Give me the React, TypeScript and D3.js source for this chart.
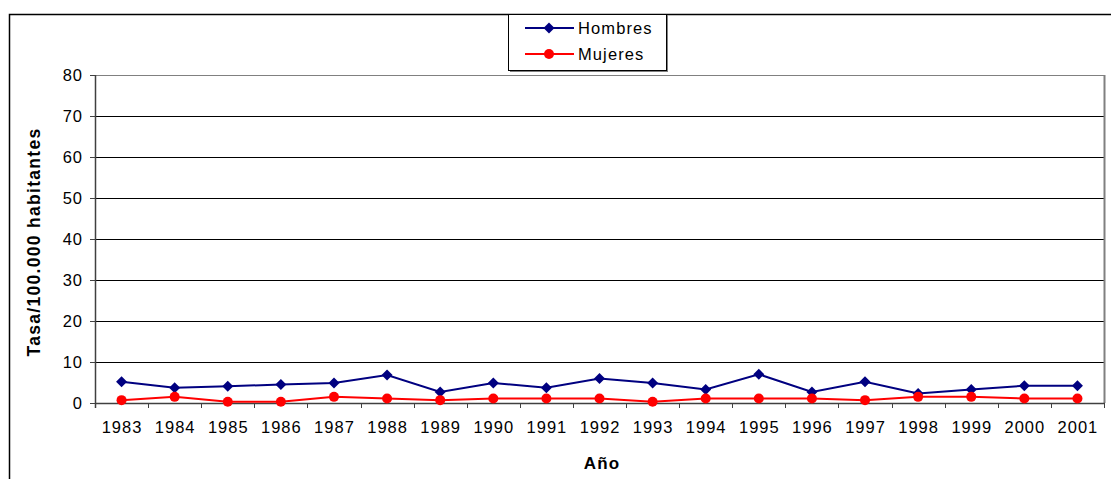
import React from "react";
import * as d3 from "d3";

const years = ["1983","1984","1985","1986","1987","1988","1989","1990","1991","1992","1993","1994","1995","1996","1997","1998","1999","2000","2001"];
const hombres = [5.2,3.7,4.1,4.5,4.9,6.8,2.7,4.9,3.7,6.0,4.9,3.3,7.0,2.7,5.2,2.3,3.3,4.2,4.2];
const mujeres = [0.7,1.5,0.3,0.3,1.5,1.1,0.7,1.1,1.1,1.1,0.3,1.1,1.1,1.1,0.7,1.5,1.5,1.1,1.1];
const yTicks = [0,10,20,30,40,50,60,70,80];

const W = 1111, H = 479;
const plot = { left: 95, right: 1104, top: 75, bottom: 403 };

export default function App() {
  const x = d3.scaleBand<string>().domain(years).range([plot.left, plot.right]).padding(0);
  const y = d3.scaleLinear().domain([0, 80]).range([plot.bottom, plot.top]);
  const cx = (d: string) => (x(d) as number) + x.bandwidth() / 2;
  const line = d3.line<number>().x((_, i) => cx(years[i])).y((v) => y(v));
  const font = "Arial, 'Liberation Sans', sans-serif";
  const diamond = (px: number, py: number, r: number) => `M${px},${py - r}L${px + r},${py}L${px},${py + r}L${px - r},${py}Z`;
  const boundaries = years.map((d) => x(d) as number).concat([plot.right]);
  const fs = 16.5;
  const ls = 1;

  return (
    <svg width={W} height={H} style={{ position: "absolute", left: 0, top: 0, fontFamily: font }}>
      <rect x={0} y={0} width={W} height={H} fill="#fff" />
      <rect x={9.5} y={14.5} width={1120} height={480} fill="none" stroke="#000" strokeWidth={1.5} />
      {/* gridlines */}
      {yTicks.filter((t) => t > 0).map((t) => (
        <line key={t} x1={plot.left} x2={plot.right} y1={Math.round(y(t)) + 0.5} y2={Math.round(y(t)) + 0.5} stroke={t === 80 ? "#808080" : "#000"} strokeWidth={1} />
      ))}
      {/* plot border right */}
      <line x1={plot.right + 0.5} x2={plot.right + 0.5} y1={plot.top} y2={plot.bottom} stroke="#808080" strokeWidth={2} />
      {/* y axis */}
      <line x1={plot.left + 0.5} x2={plot.left + 0.5} y1={plot.top} y2={plot.bottom + 5} stroke="#404040" strokeWidth={1.5} />
      {yTicks.map((t) => (
        <g key={t}>
          <line x1={plot.left - 5} x2={plot.left} y1={Math.round(y(t)) + 0.5} y2={Math.round(y(t)) + 0.5} stroke="#404040" strokeWidth={1} />
          <text x={82 + ls} y={y(t) + 6} textAnchor="end" fontSize={fs} letterSpacing={ls} fill="#000">{t}</text>
        </g>
      ))}
      {/* x axis */}
      <line x1={plot.left} x2={plot.right + 1} y1={plot.bottom + 0.5} y2={plot.bottom + 0.5} stroke="#404040" strokeWidth={1.5} />
      {boundaries.map((b, i) => (
        <line key={i} x1={Math.round(b) + 0.5} x2={Math.round(b) + 0.5} y1={plot.bottom} y2={plot.bottom + 5} stroke="#404040" strokeWidth={1} />
      ))}
      {years.map((d) => (
        <text key={d} x={cx(d) + ls / 2} y={433} textAnchor="middle" fontSize={fs} letterSpacing={ls} fill="#000">{d}</text>
      ))}
      <text x={602} y={469} textAnchor="middle" fontSize={17} letterSpacing={1.2} fontWeight="bold">Año</text>
      <text transform={`translate(40,242) rotate(-90)`} textAnchor="middle" fontSize={17.5} letterSpacing={1.3} fontWeight="bold">Tasa/100.000 habitantes</text>
      {/* series */}
      <path d={line(hombres) || ""} fill="none" stroke="#000080" strokeWidth={2} />
      <path d={line(mujeres) || ""} fill="none" stroke="#ff0000" strokeWidth={2} />
      {hombres.map((v, i) => (
        <path key={"h" + i} d={diamond(cx(years[i]), y(v), 5.5)} fill="#000080" />
      ))}
      {mujeres.map((v, i) => (
        <circle key={"m" + i} cx={cx(years[i])} cy={y(v)} r={5} fill="#ff0000" />
      ))}
      {/* legend */}
      <rect x={510} y={15} width={158} height={57} fill="#808080" />
      <rect x={508.5} y={14.5} width={158} height={56} fill="#fff" stroke="#000" strokeWidth={1} />
      <line x1={525} x2={574} y1={28} y2={28} stroke="#000080" strokeWidth={2} />
      <path d={diamond(549, 28, 5.5)} fill="#000080" />
      <text x={578} y={34} fontSize={fs} letterSpacing={1.1}>Hombres</text>
      <line x1={525} x2={574} y1={54} y2={54} stroke="#ff0000" strokeWidth={2} />
      <circle cx={549} cy={54} r={5} fill="#ff0000" />
      <text x={578} y={60} fontSize={fs} letterSpacing={1.1}>Mujeres</text>
    </svg>
  );
}
